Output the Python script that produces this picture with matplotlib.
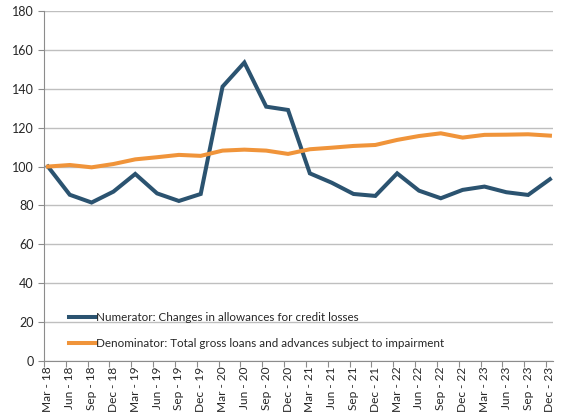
import matplotlib
matplotlib.use("Agg")
import matplotlib.pyplot as plt
from matplotlib.ticker import FixedLocator

quarters = ["Mar - 18", "Jun - 18", "Sep - 18", "Dec - 18",
            "Mar - 19", "Jun - 19", "Sep - 19", "Dec - 19",
            "Mar - 20", "Jun - 20", "Sep - 20", "Dec - 20",
            "Mar - 21", "Jun - 21", "Sep - 21", "Dec - 21",
            "Mar - 22", "Jun - 22", "Sep - 22", "Dec - 22",
            "Mar - 23", "Jun - 23", "Sep - 23", "Dec - 23"]

numerator = [100.0, 85.5, 81.5, 87.1, 96.2, 86.2, 82.3, 85.9,
             141.1, 153.5, 130.8, 129.1, 96.5, 91.7, 85.9, 84.9,
             96.5, 87.6, 83.7, 88.0, 89.7, 86.8, 85.4, 93.5]

denominator = [100.0, 100.8, 99.6, 101.3, 103.7, 104.8, 106.0, 105.5,
               108.2, 108.7, 108.2, 106.5, 108.9, 109.7, 110.6, 111.1,
               113.7, 115.7, 117.1, 114.9, 116.3, 116.4, 116.6, 115.9]

num_label = "Numerator: Changes in allowances for credit losses"
den_label = "Denominator: Total gross loans and advances subject to impairment"

blue = "#2B5370"
orange = "#F0943A"
grid_col = "#BFBFBF"
text_col = "#262626"

plt.rcParams["font.family"] = ["Lato", "DejaVu Sans"]

fig = plt.figure(figsize=(5.64, 4.15), dpi=100)
ax = fig.add_axes([44 / 564, 1 - 361 / 415, (553 - 44) / 564, 350 / 415])

x = list(range(len(quarters)))
ax.plot(x, numerator, color=blue, lw=2.9, solid_joinstyle="miter",
        label=num_label, zorder=3)
ax.plot(x, denominator, color=orange, lw=2.9, solid_joinstyle="miter",
        label=den_label, zorder=3)

ax.set_ylim(0, 180)
ax.set_yticks(range(0, 181, 20))
ax.set_xlim(-0.18, 23.14)
ax.set_xticks(x)
ax.set_xticklabels(quarters, rotation=90, fontsize=8.6, color=text_col)
ax.tick_params(axis="y", labelsize=9, colors=text_col, length=4,
               color="#8C8C8C", width=0.8)
ax.xaxis.set_minor_locator(FixedLocator([i - 0.18 for i in x]))
ax.tick_params(axis="x", which="major", length=0, pad=4)
ax.tick_params(axis="x", which="minor", length=4, color="#8C8C8C", width=0.8)

ax.grid(axis="y", color=grid_col, lw=1.0)
ax.set_axisbelow(True)
for side in ("top", "right"):
    ax.spines[side].set_visible(False)
for side in ("left", "bottom"):
    ax.spines[side].set_color("#8C8C8C")
    ax.spines[side].set_linewidth(0.8)

leg = ax.legend(loc="lower left", bbox_to_anchor=(0.04, 0.02),
                frameon=False, fontsize=8.4, handlelength=2.3,
                handletextpad=0.0, labelspacing=1.3, borderaxespad=0)
for t in leg.get_texts():
    t.set_color(text_col)

fig.savefig("out.png", dpi=100, facecolor="white")
